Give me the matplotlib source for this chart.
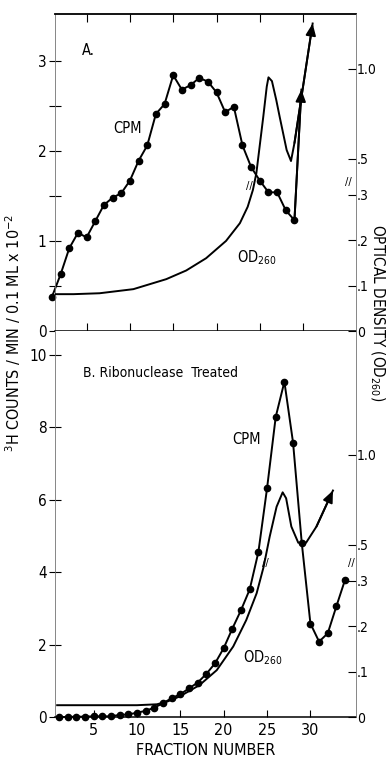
import numpy as np
import matplotlib
matplotlib.use('Agg')
import matplotlib.pyplot as plt

plt.rcParams['font.family'] = ['DejaVu Sans']
plt.rcParams['font.stretch'] = 'condensed'
plt.rcParams['mathtext.fontset'] = 'dejavusans'

# Panel A: CPM (x 10^-2) per fraction, plus OD260 trace
frac_a = list(range(1, 30))
cpm_a = [0.38, 0.63, 0.92, 1.09, 1.04, 1.22, 1.40, 1.48, 1.53, 1.67,
         1.89, 2.06, 2.41, 2.52, 2.84, 2.68, 2.73, 2.81, 2.77, 2.65,
         2.43, 2.49, 2.06, 1.82, 1.67, 1.54, 1.54, 1.34, 1.23]
cpm_a_tip = (29.8, 2.68)
od_frac_a = [1.1, 3.5, 6.5, 10.4, 14.2, 16.5, 18.8, 21.1, 22.7, 23.6, 24.2,
             24.6, 25.4, 25.8, 26.0, 26.4, 26.9, 27.3, 28.1, 28.6, 29.0, 31.1]
od_a = [0.081, 0.081, 0.083, 0.092, 0.114, 0.133, 0.160, 0.198, 0.237, 0.273,
        0.325, 0.418, 0.732, 0.899, 0.951, 0.930, 0.825, 0.730, 0.547, 0.486,
        0.586, 1.25]

# Panel B: ribonuclease treated
frac_b = list(range(1, 35))
cpm_b = [0.0, 0.0, 0.01, 0.01, 0.02, 0.02, 0.02, 0.06, 0.07, 0.12,
         0.17, 0.26, 0.38, 0.52, 0.63, 0.79, 0.95, 1.19, 1.48, 1.90,
         2.44, 2.95, 3.52, 4.55, 6.31, 8.28, 9.25, 7.57, 4.81, 2.58,
         2.08, 2.31, 3.06, 3.79]
od_frac_b = [0.8, 6, 10, 12.3, 13.5, 14.9, 17.2, 19.2, 21.1, 22.6, 23.8,
             24.6, 25.3, 26.1, 26.8, 27.2, 27.8, 28.6, 29.5, 30.7, 32.6]
od_b = [0.026, 0.026, 0.026, 0.028, 0.034, 0.045, 0.070, 0.103, 0.155, 0.213,
        0.272, 0.375, 0.543, 0.710, 0.790, 0.757, 0.600, 0.510, 0.510, 0.600,
        0.800]

x_ticks = [5, 10, 15, 20, 25, 30]
od_ticks = [0, 0.1, 0.2, 0.3, 0.5, 1.0]
od_labels = ['0', '.1', '.2', '.3', '.5', '1.0']

# broken OD axis: steeper below .3, compressed above
BRK, LOW, HIGH = 0.3, 455.0, 180.0


def od_fwd(v):
    v = np.asarray(v, float)
    return np.where(v <= BRK, v * LOW, BRK * LOW + (v - BRK) * HIGH)


def od_inv(h):
    h = np.asarray(h, float)
    return np.where(h <= BRK * LOW, h / LOW, BRK + (h - BRK * LOW) / HIGH)


fig = plt.figure(figsize=(3.89, 7.65), dpi=100)
axA = fig.add_axes([0.1414, 0.5673, 0.7725, 0.4144])
axB = fig.add_axes([0.1414, 0.0627, 0.7725, 0.5046])

side = dict(color='0.45', lw=0.6)
lw = 1.4
ms = 4.5
head = '-|>,head_length=0.7,head_width=0.3'

# ---- panel A
axA.plot(frac_a, cpm_a, 'k-', lw=lw, marker='o', ms=ms, clip_on=False)
axA.plot([frac_a[-1], cpm_a_tip[0]], [cpm_a[-1], cpm_a_tip[1]], 'k-', lw=lw)
axA.annotate('', xy=cpm_a_tip, xytext=(frac_a[-1], cpm_a[-1]),
             arrowprops=dict(arrowstyle=head, color='k', lw=lw,
                             shrinkA=0, shrinkB=0))
axA.set_xlim(1.35, 36.05)
axA.set_ylim(0, 3.52)
axA.set_yticks([0, 1, 2, 3])
axA.set_yticks([0.5, 1.5, 2.5], minor=True)
axA.set_xticks(x_ticks)
axA.tick_params(axis='x', top=True, bottom=True, labelbottom=False,
                direction='in', length=6, width=0.8)
axA.tick_params(axis='y', which='both', direction='inout', length=8,
                width=0.8, labelsize=11, pad=2)
axA.spines['top'].set_linewidth(1.3)
axA.spines['bottom'].set_linewidth(1.1)
axA.spines['left'].set(**side)
axA.spines['right'].set_visible(False)

tA = axA.twinx()
tA.set_yscale('function', functions=(od_fwd, od_inv))
tA.set_ylim(0, float(od_inv(317)))
tA.plot(od_frac_a, od_a, 'k-', lw=lw)
tA.annotate('', xy=(od_frac_a[-1], od_a[-1]), xytext=(od_frac_a[-2], od_a[-2]),
            arrowprops=dict(arrowstyle=head, color='k', lw=lw,
                            shrinkA=0, shrinkB=0))
tA.set_yticks(od_ticks)
tA.set_yticklabels(od_labels)
tA.minorticks_off()
tA.tick_params(axis='y', direction='in', length=6, width=0.8,
               labelsize=10, pad=1)
for s in ('left', 'top', 'bottom'):
    tA.spines[s].set_visible(False)
tA.spines['right'].set(**side)
tA.text(23.8, 0.35, '//', fontsize=8, ha='center', va='center')
tA.text(0.975, 0.37, '//', transform=tA.get_yaxis_transform(), fontsize=8,
        ha='center', va='center')

axA.text(0.11, 0.885, 'A.', transform=axA.transAxes, fontsize=10.5,
         ha='center', va='center')
axA.text(0.24, 0.64, 'CPM', transform=axA.transAxes, fontsize=10.5,
         ha='center', va='center')
axA.text(0.672, 0.233, 'OD$_{260}$', transform=axA.transAxes, fontsize=10.5,
         ha='center', va='center')

# ---- panel B
axB.plot(frac_b, cpm_b, 'k-', lw=lw, marker='o', ms=ms, clip_on=False)
axB.set_xlim(0.55, 35.2)
axB.set_ylim(0, 10.65)
axB.set_yticks([0, 2, 4, 6, 8, 10])
axB.set_xticks(x_ticks)
axB.tick_params(axis='x', direction='in', length=5, width=0.8,
                labelsize=11.5, pad=4)
axB.tick_params(axis='y', direction='inout', length=8, width=0.8,
                labelsize=11, pad=2)
axB.spines['top'].set_visible(False)
axB.spines['bottom'].set_linewidth(1.1)
axB.spines['left'].set(**side)
axB.spines['right'].set_visible(False)
axB.set_xlabel('FRACTION NUMBER', fontsize=11.5, labelpad=4)

tB = axB.twinx()
tB.set_yscale('function', functions=(od_fwd, od_inv))
tB.set_ylim(0, float(od_inv(386)))
tB.plot(od_frac_b, od_b, 'k-', lw=lw)
tB.annotate('', xy=(od_frac_b[-1], od_b[-1]), xytext=(od_frac_b[-2], od_b[-2]),
            arrowprops=dict(arrowstyle=head, color='k', lw=lw,
                            shrinkA=0, shrinkB=0))
tB.set_yticks(od_ticks)
tB.set_yticklabels(od_labels)
tB.minorticks_off()
tB.tick_params(axis='y', direction='in', length=6, width=0.8,
               labelsize=10, pad=1)
for s in ('left', 'top', 'bottom'):
    tB.spines[s].set_visible(False)
tB.spines['right'].set(**side)
tB.text(24.8, 0.40, '//', fontsize=8, ha='center', va='center')
tB.text(0.985, 0.40, '//', transform=tB.get_yaxis_transform(), fontsize=8,
        ha='center', va='center')

axB.text(0.093, 0.891, 'B. Ribonuclease  Treated', transform=axB.transAxes,
         fontsize=10, ha='left', va='center')
axB.text(0.638, 0.718, 'CPM', transform=axB.transAxes, fontsize=10.5,
         ha='center', va='center')
axB.text(0.692, 0.155, 'OD$_{260}$', transform=axB.transAxes, fontsize=10.5,
         ha='center', va='center')

fig.text(0.034, 0.565, r'$^3$H COUNTS / MIN / 0.1 ML x 10$^{-2}$',
         rotation=90, ha='center', va='center', fontsize=11.5)
fig.text(0.970, 0.591, 'OPTICAL DENSITY (OD$_{260}$)', rotation=270,
         ha='center', va='center', fontsize=11)

fig.savefig('out.png', dpi=100)
